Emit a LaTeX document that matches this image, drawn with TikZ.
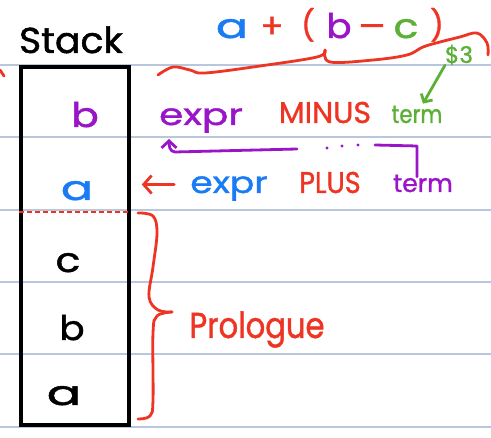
\documentclass[tikz,border=0pt]{standalone}
\usepackage{fontspec}
\setmainfont{Poppins}[FakeBold=1.2]
\usetikzlibrary{arrows.meta}
\definecolor{inkred}{HTML}{EE3524}
\definecolor{inkblue}{HTML}{1A7CF5}
\definecolor{inkpurple}{HTML}{9A14C8}
\definecolor{inkgreen}{HTML}{5CB035}
\definecolor{ruleblue}{HTML}{B8C6DE}
\newcommand\hw[2]{\scalebox{#1}[1]{#2}}
\begin{document}
\begin{tikzpicture}[x=1pt,y=-1pt,
  every node/.style={inner sep=0pt, anchor=base},
  ink/.style={line width=2.8pt, line cap=round, line join=round},
  rule/.style={draw=ruleblue, line width=1.2pt},
  big/.style={font=\fontsize{34}{40}\selectfont},
  mid/.style={font=\fontsize{30}{36}\selectfont},
  small/.style={font=\fontsize{25}{30}\selectfont},
  barb/.style={-{Straight Barb[length=8pt,width=18pt]}}]
\useasboundingbox (0,0) rectangle (491,438);
\fill[white] (0,0) rectangle (491,438);

% ruled paper
\foreach \y in {65,137,210,282,354,427} \draw[rule] (0,\y) -- (491,\y);

% stack box
\node[draw, line width=3.5pt, minimum width=108pt, minimum height=358pt, anchor=center] (stack) at (75,246) {};
\draw[inkred, line width=2.5pt, dash pattern=on 5pt off 3pt] (stack.west |- 0,212) -- (stack.east |- 0,212);
\draw[inkred, ink] (0,70) -- (4,76);

% title
\node[font=\fontsize{36}{40}\selectfont] (title) at (71,53) {\hw{1.05}{Stack}};

% stack contents
\node[big, inkpurple] (sb) at (85,127) {\hw{1.2}{b}};
\node[big, inkblue] (sa) at (77,200) {\hw{1.4}{a}};
\node[big] (sc) at (68,272) {\hw{1.2}{c}};
\node[big] (sb2) at (72,340) {\hw{1.1}{b}};
\node[big] (sa2) at (64,405) {\hw{1.5}{a}};

% expression
\node[big, inkblue] (xa) at (232,38) {\hw{1.4}{a}};
\node[big, inkred] (xplus) at (272,38) {+};
\node[font=\fontsize{30}{30}\selectfont, inkred] (xlp) at (308,36) {(};
\node[big, inkpurple] (xb) at (339,38) {\hw{1.1}{b}};
\node[big, inkred] (xminus) at (373,38) {\hw{1.6}{-}};
\node[big, inkgreen] (xc) at (406,38) {\hw{1.2}{c}};
\node[font=\fontsize{30}{30}\selectfont, inkred] (xrp) at (437,36) {)};

% brace under the expression
\draw[inkred, ink] plot[smooth, tension=0.6] coordinates {(158,75) (173,67) (190,70) (205,73) (260,66) (317,57) (325,50)};
\draw[inkred, ink] plot[smooth, tension=0.6] coordinates {(325,50) (330,62) (373,60) (407,55) (423,47) (440,42) (460,37) (477,33) (487,43) (488,55)};

% first production
\node[mid, inkpurple] (e1) at (201,125) {\hw{1.3}{expr}};
\node[mid, inkred] (m1) at (325,123) {\hw{1.0}{MINUS}};
\node[small, inkgreen] (t1) at (417,123) {\hw{0.85}{term}};
\node[font=\fontsize{23}{26}\selectfont, inkgreen] (d3) at (459,63) {\$3};
\draw[inkgreen, ink, -{Straight Barb[length=6pt,width=13pt]}] ([xshift=-14pt]d3.south) -- ([xshift=6pt,yshift=2pt]t1.north);

% second production
\node[mid, inkblue] (e2) at (229,193) {\hw{1.2}{expr}};
\node[mid, inkred] (p2) at (330,193) {\hw{0.9}{PLUS}};
\node[small, inkpurple] (t2) at (423,192) {\hw{1.0}{term}};
\draw[inkred, ink, barb] ([xshift=-16pt,yshift=4pt]e2.west) -- ([xshift=11pt,yshift=4pt]stack.east |- e2.west);

% reduction path from term back to expr
\draw[inkpurple, ink] ([xshift=-6pt,yshift=-2pt]t2.north) -- ([xshift=-6pt]t2.north |- 0,146) -- (375,145);
\foreach \x/\y in {327/148,342/146,358/145} \fill[inkpurple] (\x,\y) circle (1.7pt);
\draw[inkpurple, ink, -{Straight Barb[length=7pt,width=15pt]}] (297,149) -- ([xshift=-26pt]e1.south |- 0,152) to[out=180,in=-90] ([xshift=-32pt,yshift=-6pt]e1.south);

% prologue brace
\draw[inkred, ink] plot[smooth, tension=0.6] coordinates {(138,213) (153,216) (157,233) (153,267) (149,297) (158,310) (172,312)};
\draw[inkred, ink] plot[smooth, tension=0.6] coordinates {(172,312) (157,316) (153,333) (153,400) (150,416) (138,419)};
\node[font=\fontsize{36}{40}\selectfont, inkred] (pro) at (257,338) {\hw{0.85}{Prologue}};
\end{tikzpicture}
\end{document}
